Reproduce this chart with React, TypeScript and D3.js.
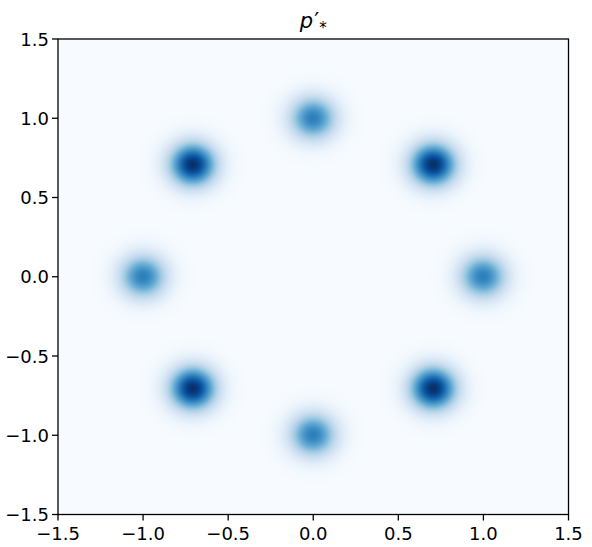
import React, { useEffect, useRef } from "react";
import * as d3 from "d3";

// Mixture components: centres on the unit circle, relative weights
const centerX = [1, 0.7071, 0, -0.7071, -1, -0.7071, 0, 0.7071];
const centerY = [0, 0.7071, 1, 0.7071, 0, -0.7071, -1, -0.7071];
const weights = [0.7, 1, 0.7, 1, 0.7, 1, 0.7, 1];
const sigma = 0.095;

const xTicks = [-1.5, -1.0, -0.5, 0.0, 0.5, 1.0, 1.5];
const yTicks = [-1.5, -1.0, -0.5, 0.0, 0.5, 1.0, 1.5];
const bluesStops = ["#f7fbff", "#deebf7", "#c6dbef", "#9ecae1", "#6baed6", "#4292c6", "#2171b5", "#08519c", "#08306b"];

const W = 592, H = 547;
const L = 58, R = 568.5, T = 39, B = 514.5;

const fmt = (v: number) => {
  const s = v.toFixed(1);
  return v < 0 ? "\u2212" + s.slice(1) : s;
};

export default function App() {
  const imgRef = useRef<SVGImageElement>(null);
  const x = d3.scaleLinear().domain([-1.5, 1.5]).range([L, R]);
  const y = d3.scaleLinear().domain([-1.5, 1.5]).range([B, T]);
  const color = d3
    .scaleLinear<string>()
    .domain(bluesStops.map((_, i) => i / (bluesStops.length - 1)))
    .range(bluesStops)
    .interpolate(d3.interpolateRgb)
    .clamp(true);

  useEffect(() => {
    const pw = Math.round(R - L), ph = Math.round(B - T);
    const canvas = document.createElement("canvas");
    canvas.width = pw;
    canvas.height = ph;
    const ctx = canvas.getContext("2d")!;
    const img = ctx.createImageData(pw, ph);
    const vals = new Float64Array(pw * ph);
    let mx = 0;
    for (let j = 0; j < ph; j++) {
      const yy = y.invert(T + j + 0.5);
      for (let i = 0; i < pw; i++) {
        const xx = x.invert(L + i + 0.5);
        let v = 0;
        for (let k = 0; k < centerX.length; k++) {
          const dx = xx - centerX[k], dy = yy - centerY[k];
          v += weights[k] * Math.exp(-(dx * dx + dy * dy) / (2 * sigma * sigma));
        }
        vals[j * pw + i] = v;
        if (v > mx) mx = v;
      }
    }
    for (let p = 0; p < pw * ph; p++) {
      const c = d3.rgb(color(vals[p] / mx));
      img.data[p * 4] = c.r;
      img.data[p * 4 + 1] = c.g;
      img.data[p * 4 + 2] = c.b;
      img.data[p * 4 + 3] = 255;
    }
    ctx.putImageData(img, 0, 0);
    imgRef.current?.setAttribute("href", canvas.toDataURL());
  }, []);

  const font = "DejaVu Sans, sans-serif";
  return (
    <svg width={W} height={H} style={{ position: "absolute", left: 0, top: 0 }}>
      <rect width={W} height={H} fill="white" />
      <image ref={imgRef} x={L} y={T} width={R - L} height={B - T} preserveAspectRatio="none" />
      <rect x={L} y={T} width={R - L} height={B - T} fill="none" stroke="black" strokeWidth={1.3} />
      {xTicks.map((t) => (
        <g key={"x" + t}>
          <line x1={x(t)} x2={x(t)} y1={B} y2={B + 6} stroke="black" strokeWidth={1.3} />
          <text x={x(t)} y={B + 25} textAnchor="middle" fontFamily={font} fontSize={18}>
            {fmt(t)}
          </text>
        </g>
      ))}
      {yTicks.map((t) => (
        <g key={"y" + t}>
          <line x1={L - 6} x2={L} y1={y(t)} y2={y(t)} stroke="black" strokeWidth={1.3} />
          <text x={L - 9} y={y(t) + 6.5} textAnchor="end" fontFamily={font} fontSize={18}>
            {fmt(t)}
          </text>
        </g>
      ))}
      <text x={(L + R) / 2} y={28} textAnchor="middle" fontFamily={font} fontSize={21} fontStyle="italic">
        p
        <tspan fontStyle="normal" fontSize={22} dx={1}>{"\u2032"}</tspan>
        <tspan fontSize={15} dy={5} fontStyle="normal">*</tspan>
      </text>
    </svg>
  );
}
